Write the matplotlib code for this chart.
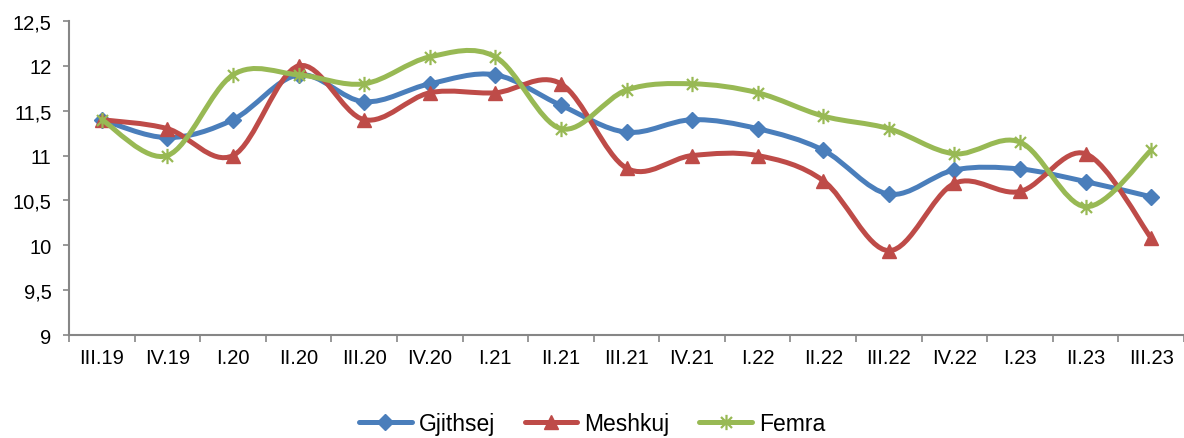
import matplotlib
matplotlib.use("Agg")
import matplotlib.pyplot as plt
from matplotlib.path import Path
from matplotlib.patches import PathPatch
from matplotlib.lines import Line2D
from matplotlib.ticker import FixedLocator, FuncFormatter
import numpy as np

plt.rcParams['font.family'] = ['Liberation Sans', 'DejaVu Sans']

categories = ["III.19", "IV.19", "I.20", "II.20", "III.20", "IV.20", "I.21", "II.21",
              "III.21", "IV.21", "I.22", "II.22", "III.22", "IV.22", "I.23", "II.23", "III.23"]
gjithsej = [11.4, 11.2, 11.4, 11.9, 11.6, 11.8, 11.9, 11.56, 11.26, 11.4, 11.3, 11.06,
            10.57, 10.84, 10.85, 10.71, 10.54]
meshkuj = [11.4, 11.3, 11.0, 12.0, 11.4, 11.7, 11.7, 11.8, 10.86, 11.0, 11.0, 10.72,
           9.94, 10.69, 10.6, 11.02, 10.08]
femra = [11.4, 11.0, 11.9, 11.9, 11.8, 12.1, 12.1, 11.3, 11.73, 11.8, 11.7, 11.44,
         11.3, 11.02, 11.15, 10.43, 11.06]

star = Path([(0, -1), (0, 1), (-0.72, -0.72), (0.72, 0.72), (-0.72, 0.72), (0.72, -0.72)],
            [Path.MOVETO, Path.LINETO] * 3)

series = [("Gjithsej", gjithsej, "#4A7EBB", "D", 8),
          ("Meshkuj", meshkuj, "#BE4B48", "^", 10),
          ("Femra", femra, "#98B954", star, 11)]


def smooth_path(x, y):
    pts = np.column_stack([x, y]).astype(float)
    n = len(pts)
    verts = [pts[0]]
    codes = [Path.MOVETO]
    for i in range(n - 1):
        p0 = pts[i - 1] if i > 0 else pts[i]
        p1 = pts[i]
        p2 = pts[i + 1]
        p3 = pts[i + 2] if i + 2 < n else pts[i + 1]
        c1 = p1 + (p2 - p0) / 6.0
        c2 = p2 - (p3 - p1) / 6.0
        verts += [c1, c2, p2]
        codes += [Path.CURVE4] * 3
    return Path(verts, codes)


fig = plt.figure(figsize=(11.84, 4.39), dpi=100)
ax = fig.add_axes([0.0583, 0.2346, 0.9417, 0.7153])

x = np.arange(len(categories))
handles = []
for k, (name, vals, col, mk, ms) in enumerate(series):
    mew = 1.6 if k == 2 else 1
    patch = PathPatch(smooth_path(x, vals), fill=False, edgecolor=col, lw=3.6,
                      capstyle='round', joinstyle='round', zorder=2 + 2 * k)
    ax.add_patch(patch)
    ax.plot(x, vals, linestyle='none', marker=mk, markersize=ms, color=col,
            markeredgecolor=col, markeredgewidth=mew, zorder=3 + 2 * k)
    handles.append(Line2D([], [], color=col, lw=3.6, marker=mk, markersize=ms,
                          markeredgecolor=col, markeredgewidth=mew,
                          solid_capstyle='round'))

ax.set_xlim(-0.5, len(categories) - 0.5)
ax.set_ylim(9, 12.5)
ax.set_yticks(np.arange(9, 12.51, 0.5))
ax.yaxis.set_major_formatter(FuncFormatter(lambda v, p: (f"{v:g}").replace(".", ",")))

ax.set_xticks(x)
ax.set_xticklabels(categories)
ax.xaxis.set_minor_locator(FixedLocator(np.arange(-0.5, len(categories), 1.0)))
ax.tick_params(axis='x', which='major', length=0, pad=9, labelsize=14.5)
ax.tick_params(axis='x', which='minor', length=5, width=1.2, color='#868686', direction='out')
ax.tick_params(axis='y', length=4.5, width=1.2, color='#868686', direction='out',
               labelsize=14.5, pad=8)

for s in ['top', 'right']:
    ax.spines[s].set_visible(False)
for s in ['left', 'bottom']:
    ax.spines[s].set_color('#868686')
    ax.spines[s].set_linewidth(1.5)

fig.legend(handles, [s[0] for s in series], loc='center', bbox_to_anchor=(0.5, 0.033),
           ncol=3, frameon=False, fontsize=16.5, handlelength=2.3, columnspacing=1.3,
           handletextpad=0.3)

fig.savefig("out.png", dpi=100)
